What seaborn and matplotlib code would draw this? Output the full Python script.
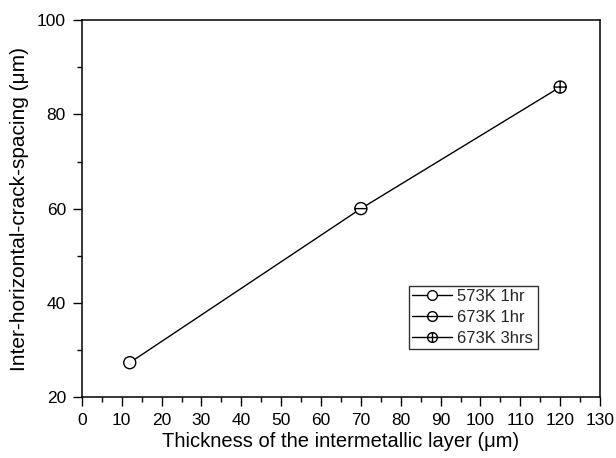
import matplotlib
matplotlib.use("Agg")
import matplotlib.pyplot as plt
from matplotlib.path import Path
from matplotlib.lines import Line2D
from matplotlib.ticker import MultipleLocator
import seaborn as sns
import pandas as pd

series = ["573K 1hr", "673K 1hr", "673K 3hrs"]
thickness = [12, 70, 120]
spacing = [27.3, 60.0, 85.8]
x_ticks = list(range(0, 131, 10))
y_ticks = [20, 40, 60, 80, 100]

sns.set_theme(style="ticks")
plt.rcParams['font.family'] = ['Liberation Sans', 'DejaVu Sans']

# custom markers
circ = Path.unit_circle()
hline = Path([[-1, 0], [1, 0]], [Path.MOVETO, Path.LINETO])
vline = Path([[0, -1], [0, 1]], [Path.MOVETO, Path.LINETO])
m_open = circ
m_theta = Path.make_compound_path(circ, hline)
m_plus = Path.make_compound_path(circ, hline, vline)
markers = {series[0]: m_open, series[1]: m_theta, series[2]: m_plus}

df = pd.DataFrame({"x": thickness, "y": spacing, "series": series})

fig = plt.figure(figsize=(6.16, 4.58), dpi=100)
ax = fig.add_axes([0.133, 0.133, 0.841, 0.823])

sns.lineplot(data=df, x="x", y="y", color="black", linewidth=1.0, ax=ax,
             sort=False, legend=False, zorder=2)
sns.scatterplot(data=df, x="x", y="y", style="series", markers=markers,
                s=75, facecolor="white", edgecolor="black", linewidth=1.0,
                color="black", ax=ax, legend=False, zorder=3)

ax.set_xlim(0, 130)
ax.set_ylim(20, 100)
ax.set_xticks(x_ticks)
ax.set_yticks(y_ticks)
ax.xaxis.set_minor_locator(MultipleLocator(5))
ax.yaxis.set_minor_locator(MultipleLocator(10))
ax.tick_params(which="major", direction="out", length=6.5, width=1.0,
               labelsize=12.5, color="black", labelcolor="black", pad=5)
ax.tick_params(which="minor", direction="out", length=3.5, width=1.0, color="black")
for sp in ax.spines.values():
    sp.set_visible(True)
    sp.set_color("black")
    sp.set_linewidth(1.1)

ax.set_xlabel("Thickness of the intermetallic layer (μm)", fontsize=14.5, color="black", labelpad=3)
ax.set_ylabel("Inter-horizontal-crack-spacing (μm)", fontsize=15, color="black", labelpad=6)

handles = []
for s in series:
    handles.append(Line2D([], [], color="black", linewidth=1.0, marker=markers[s],
                          markersize=7, markerfacecolor="white",
                          markeredgecolor="black", markeredgewidth=1.0))
leg = ax.legend(handles, series, loc="lower left", bbox_to_anchor=(0.631, 0.127, 0.25, 0.167),
                mode="expand", fontsize=12, frameon=True, fancybox=False,
                edgecolor="black", handlelength=2.4, handletextpad=0.3,
                borderpad=0.2, labelspacing=0.35, borderaxespad=0)
leg.get_frame().set_linewidth(1.0)

fig.savefig("out.png", dpi=100)
